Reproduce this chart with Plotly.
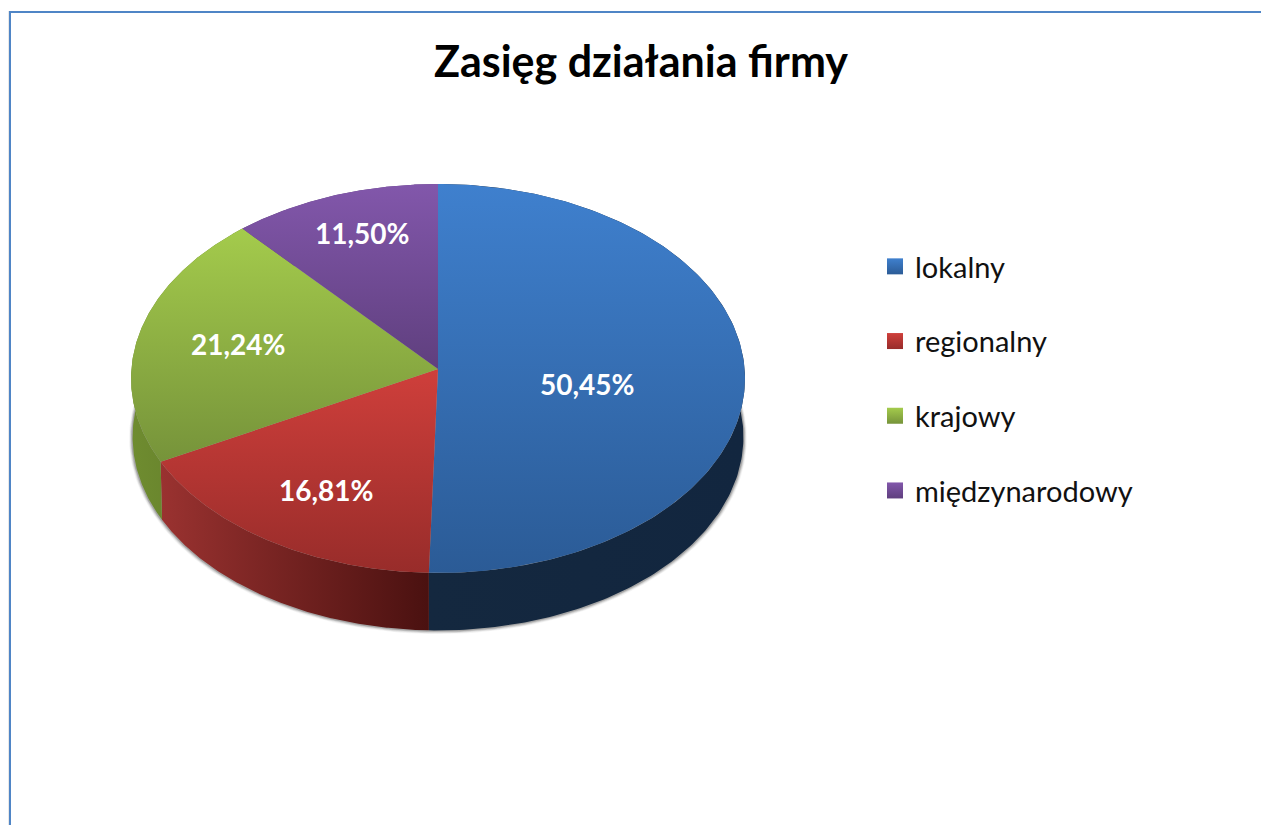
import numpy as np
import plotly.graph_objects as go

# Data
categories = ['lokalny', 'regionalny', 'krajowy', 'międzynarodowy']
values = [50.45, 16.81, 21.24, 11.50]

top_light = ['#3F80CE', '#CF3F3B', '#A4CB4C', '#8257AB']
top_dark = ['#2B5B96', '#982C2A', '#76933A', '#5F3F7E']
side_light = ['#14283F', '#9A3230', '#6F8C30', '#5F3F7E']
side_dark = ['#12263F', '#4A1110', '#5F7A28', '#5F3F7E']

# Pixel layout of the tilted pie
CX, CY = 438, 369
RX, RY = 306.6, 194
PERSP = 0.0488
DEPTH = 58.5
BASE_SCALE = 0.995
LABEL_POS = [(587, 384), (326, 490), (238, 344), (362, 233)]


def project(turn, scale=1.0, dy=0.0):
    """Clockwise fraction of the circle from 12 o'clock -> pixel position"""
    angle = 2 * np.pi * np.asarray(turn)
    u, v = np.sin(angle), np.cos(angle)
    w = 1 + PERSP * v
    return CX + scale * RX * u / w, CY + dy - scale * RY * v / w


def gradient(kind, c0, c1, start, stop):
    return dict(type=kind, colorscale=[[0, c0], [1, c1]], start=start, stop=stop)


fig = go.Figure()

# soft shadow under the body
for off, alpha in zip([4.5, 3.5, 2.5, 1.5], [0.06, 0.1, 0.16, 0.24]):
    sx, sy = project(np.linspace(0, 1, 361), BASE_SCALE + off / 400, DEPTH + off * 0.3)
    fig.add_trace(go.Scatter(x=sx, y=sy, mode='lines', line=dict(width=0), fill='toself',
                             fillcolor=f'rgba(60,60,60,{alpha})', hoverinfo='skip', showlegend=False))

total = sum(values)
ends = np.cumsum(values) / total
starts = np.concatenate([[0], ends[:-1]])

# rim of each slice
for i in range(len(values)):
    t = np.linspace(starts[i], ends[i], 200)
    x0, y0 = project(t)
    x1, y1 = project(t[::-1], BASE_SCALE, DEPTH)
    xs = np.concatenate([x0, x1])
    ys = np.concatenate([y0, y1])
    fig.add_trace(go.Scatter(x=xs, y=ys, mode='lines', line=dict(width=0), fill='toself',
                             fillgradient=gradient('horizontal', side_light[i], side_dark[i],
                                                   float(xs.min()), float(xs.max())),
                             hoverinfo='skip', showlegend=False))

# top face of each slice
for i in range(len(values)):
    t = np.linspace(starts[i], ends[i], 200)
    x0, y0 = project(t)
    xs = np.concatenate([[CX], x0, [CX]])
    ys = np.concatenate([[CY], y0, [CY]])
    fig.add_trace(go.Scatter(x=xs, y=ys, mode='lines', line=dict(width=0), fill='toself',
                             fillgradient=gradient('vertical', top_light[i], top_dark[i],
                                                   float(ys.min()), float(ys.max())),
                             hoverinfo='skip', showlegend=False))

# legend entries
for i, name in enumerate(categories):
    fig.add_trace(go.Scatter(x=[None], y=[None], mode='markers', name=name, legendgroup=name,
                             marker=dict(symbol='square', size=17, color=top_light[i],
                                         gradient=dict(type='vertical', color=top_dark[i]))))

annotations = []
for i, v in enumerate(values):
    annotations.append(dict(x=LABEL_POS[i][0], y=LABEL_POS[i][1], xref='x', yref='y', showarrow=False,
                            text=f'{v:.2f}%'.replace('.', ','),
                            font=dict(family='Lato', size=28, color='white', weight='bold')))

fig.update_layout(
    width=1261,
    height=825,
    margin=dict(l=0, r=0, t=0, b=0),
    paper_bgcolor='white',
    plot_bgcolor='white',
    title=dict(text='<b>Zasięg działania firmy</b>', x=641 / 1261, xanchor='center',
               y=1 - 62 / 825, yanchor='middle', font=dict(family='Lato', size=43, color='black')),
    xaxis=dict(range=[0, 1261], visible=False, fixedrange=True),
    yaxis=dict(range=[825, 0], visible=False, fixedrange=True),
    legend=dict(x=875 / 1261, xanchor='left', y=1 - 241 / 825, yanchor='top', tracegroupgap=34,
                font=dict(family='Lato', size=29, color='#111111'), itemsizing='trace',
                bgcolor='rgba(0,0,0,0)'),
    annotations=annotations,
    shapes=[
        dict(type='line', xref='x', yref='y', x0=8.5, x1=8.5, y0=11, y1=825, line=dict(color='#E8E8E8', width=1)),
        dict(type='line', xref='x', yref='y', x0=10, x1=10, y0=11, y1=825, line=dict(color='#4F85C6', width=2)),
        dict(type='line', xref='x', yref='y', x0=9, x1=1261, y0=12, y1=12, line=dict(color='#4F85C6', width=2)),
    ],
)

fig.write_html('out.html', config=dict(displayModeBar=False),
               post_script="document.body.style.margin='0';document.body.style.overflow='hidden';")
